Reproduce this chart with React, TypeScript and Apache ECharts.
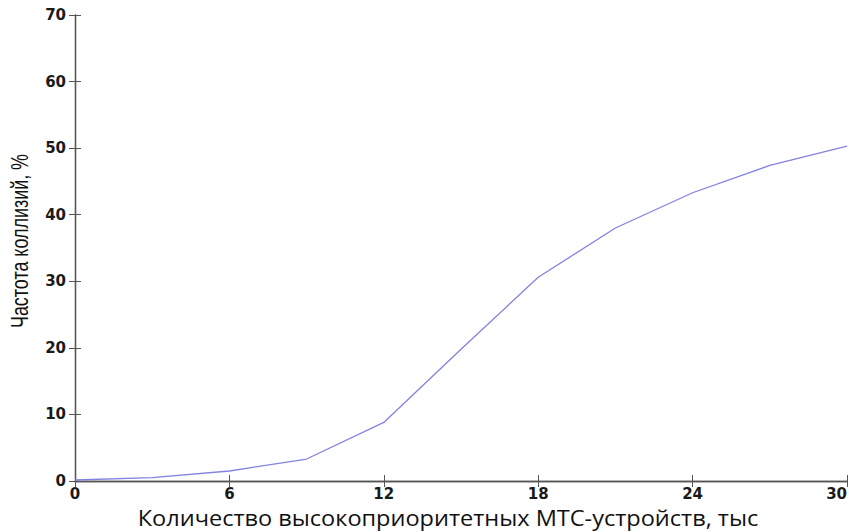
import React, { useEffect, useRef } from "react";
import * as echarts from "echarts";

const xValues = [0, 3, 6, 9, 12, 15, 18, 21, 24, 27, 30];
const collisionRate = [0.15, 0.5, 1.5, 3.3, 8.8, 19.8, 30.6, 38.0, 43.3, 47.4, 50.3];
const xTicks = { min: 0, max: 30, interval: 6 };
const yTicks = { min: 0, max: 70, interval: 10 };
const xTitle = "Количество высокоприоритетных МТС-устройств, тыс";
const yTitle = "Частота коллизий, %";

export default function App() {
  const ref = useRef<HTMLDivElement>(null);
  useEffect(() => {
    document.documentElement.style.overflow = "hidden";
    document.body.style.overflow = "hidden";
    document.body.style.margin = "0";
    if (!ref.current) return;
    const chart = echarts.init(ref.current, null, { renderer: "svg", width: 849, height: 532 });
    const axisLine = { show: true, lineStyle: { color: "#555", width: 1.3 } };
    const tick = { show: true, inside: true, length: 6, lineStyle: { color: "#555", width: 1 } };
    const label = { color: "#1a1a1a", fontFamily: "DejaVu Sans", fontWeight: "bold" as const, fontSize: 15 };
    chart.setOption({
      animation: false,
      backgroundColor: "#fff",
      grid: { left: 75, top: 15, right: 2, bottom: 51, containLabel: false, outerBoundsMode: "none" },
      xAxis: [
        {
          type: "value", ...xTicks, position: "bottom",
          axisLine, axisTick: tick, splitLine: { show: false },
          axisLabel: { ...label, margin: 5, alignMaxLabel: "right" },
        },
        {
          type: "value", ...xTicks, position: "top",
          axisLine, axisTick: tick, splitLine: { show: false }, axisLabel: { show: false },
        },
      ],
      yAxis: [
        {
          type: "value", ...yTicks, position: "left",
          axisLine, axisTick: tick, splitLine: { show: false },
          axisLabel: { ...label, margin: 9 },
        },
        {
          type: "value", ...yTicks, position: "right",
          axisLine, axisTick: tick, splitLine: { show: false }, axisLabel: { show: false },
        },
      ],
      series: [
        {
          type: "line",
          data: xValues.map((x, i) => [x, collisionRate[i]]),
          showSymbol: false,
          lineStyle: { color: "#8282e2", width: 1.3 },
          clip: false,
        },
      ],
      graphic: [
        {
          type: "text", x: 448, y: 518, scaleX: 1.07,
          style: {
            text: xTitle, fill: "#111", font: "500 22px 'Open Sans', sans-serif",
            textAlign: "center", textVerticalAlign: "middle",
          },
        },
        {
          type: "text", x: 20, y: 241, rotation: Math.PI / 2, scaleX: 0.78,
          style: {
            text: yTitle, fill: "#111", font: "23px 'Liberation Sans', sans-serif",
            textAlign: "center", textVerticalAlign: "middle",
          },
        },
      ],
    });
    return () => chart.dispose();
  }, []);
  return (
    <div
      ref={ref}
      style={{ position: "fixed", left: 0, top: 0, width: 849, height: 532, background: "#fff" }}
    />
  );
}
